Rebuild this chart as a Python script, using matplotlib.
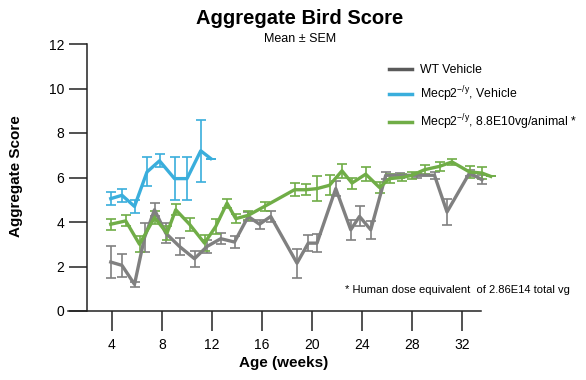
import matplotlib
matplotlib.use("Agg")
import matplotlib.pyplot as plt
from matplotlib.lines import Line2D

plt.rcParams['font.family'] = ['Liberation Sans', 'DejaVu Sans']
plt.rcParams['mathtext.fontset'] = 'custom'
plt.rcParams['mathtext.rm'] = 'Liberation Sans'
plt.rcParams['mathtext.default'] = 'regular'

# WT Vehicle
wt_x = [3.9, 4.8, 5.8, 6.6, 7.4, 8.3, 9.4, 10.6, 11.6, 12.7, 13.8, 14.9, 15.8, 16.7,
        18.8, 19.7, 20.4, 21.9, 23.1, 23.8, 24.7, 25.9, 27.0, 28.4, 29.8, 30.8, 32.6, 33.6]
wt_y = [2.2, 2.05, 1.2, 3.3, 4.55, 3.5, 2.9, 2.35, 2.9, 3.25, 3.1, 4.25, 3.9, 4.25,
        2.15, 3.05, 3.05, 5.5, 3.65, 4.25, 3.65, 6.1, 6.1, 6.1, 6.1, 4.45, 6.2, 5.9]
wt_e = [0.7, 0.5, 0.1, 0.65, 0.3, 0.45, 0.4, 0.35, 0.3, 0.25, 0.25, 0.2, 0.2, 0.25,
        0.65, 0.35, 0.4, 0.35, 0.45, 0.45, 0.4, 0.15, 0.1, 0.1, 0.15, 0.6, 0.15, 0.2]

# Mecp2-/y Vehicle
ko_x = [3.9, 4.8, 5.8, 6.8, 7.8, 9.0, 10.0, 11.1, 11.9]
ko_y = [5.05, 5.2, 4.7, 6.25, 6.75, 5.95, 5.95, 7.2, 6.85]
ko_e = [0.3, 0.3, 0.3, 0.65, 0.3, 0.95, 0.95, 1.4, 0.0]

# Mecp2-/y 8.8E10 vg/animal
tx_x = [3.9, 5.1, 6.2, 7.4, 8.4, 9.1, 10.2, 11.4, 12.3, 13.2, 13.9, 14.9, 16.2,
        18.6, 19.5, 20.4, 21.4, 22.4, 23.2, 24.3, 25.4, 26.2, 27.2, 28.0, 29.0,
        30.2, 31.2, 32.6, 33.6, 34.3]
tx_y = [3.9, 4.05, 3.0, 4.2, 3.5, 4.55, 3.9, 3.05, 3.8, 4.85, 4.15, 4.3, 4.7,
        5.45, 5.45, 5.5, 5.65, 6.3, 5.75, 6.15, 5.55, 5.95, 6.0, 6.1, 6.35,
        6.5, 6.7, 6.25, 6.2, 6.05]
tx_e = [0.25, 0.25, 0.35, 0.3, 0.3, 0.25, 0.3, 0.35, 0.35, 0.2, 0.2, 0.2, 0.2,
        0.3, 0.25, 0.55, 0.45, 0.3, 0.25, 0.3, 0.25, 0.2, 0.15, 0.15, 0.2,
        0.2, 0.15, 0.25, 0.25, 0.0]

x_ticks = [4, 8, 12, 16, 20, 24, 28, 32]
y_ticks = [0, 2, 4, 6, 8, 10, 12]

c_wt = '#808080'
c_ko = '#3aaedc'
c_tx = '#70ad47'

W, H = 586, 380
fig = plt.figure(figsize=(W / 100, H / 100), dpi=100)
ax = fig.add_axes([68.25 / W, (H - 311) / H, 412.5 / W, 267 / H])
ax.set_xlim(0.5, 33.5)
ax.set_ylim(0, 12)

for xs, ys, es, c in [(wt_x, wt_y, wt_e, c_wt), (tx_x, tx_y, tx_e, c_tx), (ko_x, ko_y, ko_e, c_ko)]:
    ax.errorbar(xs, ys, yerr=es, color=c, lw=2.4, elinewidth=1.2, capsize=3.5,
                capthick=1.2, clip_on=False)

for s in ['top', 'right']:
    ax.spines[s].set_visible(False)
ax.spines['left'].set_position(('data', 2))
ax.spines['left'].set_bounds(0, 12)
for s in ['left', 'bottom']:
    ax.spines[s].set_linewidth(1.1)
    ax.spines[s].set_color('#222222')

ax.set_xticks(x_ticks)
ax.set_yticks(y_ticks)
ax.tick_params(axis='y', length=13, width=1.1, pad=3.5, labelsize=10, color='#222222')
ax.tick_params(axis='x', length=14.5, width=1.1, pad=5, labelsize=10, color='#222222')

fig.text(284 / W, 1 - 363 / H, 'Age (weeks)', fontsize=11, fontweight='bold',
         ha='center', va='center')
fig.text(16 / W, 1 - 176 / H, 'Aggregate Score', rotation=90, fontsize=11,
         fontweight='bold', ha='center', va='center')

fig.text(300 / W, 1 - 19 / H, 'Aggregate Bird Score', fontsize=14.5, fontweight='bold',
         ha='center', va='center')
fig.text(300 / W, 1 - 39 / H, 'Mean ± SEM', fontsize=9, ha='center', va='center')

handles = [Line2D([], [], color='#5a5a5a', lw=2.5),
           Line2D([], [], color=c_ko, lw=2.5),
           Line2D([], [], color=c_tx, lw=2.5)]
labels = ['WT Vehicle', r'Mecp2$^{-/y}$, Vehicle', r'Mecp2$^{-/y}$, 8.8E10vg/animal *']
fig.legend(handles, labels, loc='upper left', bbox_to_anchor=(378 / W, 1 - 53 / H),
           frameon=False, fontsize=8.8, handlelength=1.85, handletextpad=0.65,
           labelspacing=0.7)

fig.text(345 / W, 1 - 290 / H, '* Human dose equivalent  of 2.86E14 total vg',
         fontsize=8, ha='left', va='center')

fig.savefig('out.png', dpi=100)
